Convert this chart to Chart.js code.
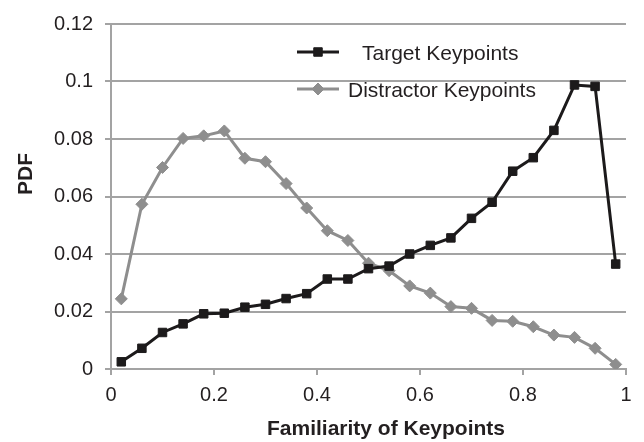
<!DOCTYPE html>
<html>
<head>
<meta charset="utf-8">
<script src="https://cdn.jsdelivr.net/npm/chart.js@4/dist/chart.umd.min.js"></script>
<style>
  html, body { margin: 0; padding: 0; background: #ffffff; }
  #wrap { width: 644px; height: 442px; position: relative; }
</style>
</head>
<body>
<div id="wrap"><canvas id="chart" width="644" height="442"></canvas></div>
<script>
// bin centres along the familiarity axis
const familiarity = [0.02, 0.06, 0.10, 0.14, 0.18, 0.22, 0.26, 0.30, 0.34, 0.38, 0.42, 0.46, 0.50,
                     0.54, 0.58, 0.62, 0.66, 0.70, 0.74, 0.78, 0.82, 0.86, 0.90, 0.94, 0.98];

const targetPdf = [0.0025, 0.0072, 0.0127, 0.0157, 0.0192, 0.0194, 0.0215, 0.0225, 0.0245, 0.0262,
                   0.0313, 0.0313, 0.0349, 0.0358, 0.0400, 0.0430, 0.0456, 0.0524, 0.0580, 0.0688,
                   0.0735, 0.0830, 0.0988, 0.0983, 0.0365];

const distractorPdf = [0.0244, 0.0573, 0.0701, 0.0802, 0.0811, 0.0828, 0.0733, 0.0721, 0.0645, 0.0560,
                       0.0481, 0.0447, 0.0368, 0.0342, 0.0289, 0.0264, 0.0217, 0.0211, 0.0169, 0.0166,
                       0.0147, 0.0118, 0.0110, 0.0072, 0.0016];

const seriesLabels = ['Target Keypoints', 'Distractor Keypoints'];
const xTicks = [0, 0.2, 0.4, 0.6, 0.8, 1];
const yTicks = [0, 0.02, 0.04, 0.06, 0.08, 0.1, 0.12];

const axisGray = '#a3a3a3';
const textColor = '#231f20';
const darkLine = '#1c1a1b';
const grayLine = '#8e8e8e';
const fontFamily = '"Liberation Sans", Arial, sans-serif';

const toPoints = (values) => values.map((v, i) => ({ x: familiarity[i], y: v }));

// axis titles and the in-plot legend, placed where the original has them
const overlayPlugin = {
    id: 'overlay',
    afterDraw(chart) {
        const ctx = chart.ctx;
        ctx.save();
        ctx.fillStyle = textColor;
        ctx.font = 'bold 21px ' + fontFamily;
        ctx.textAlign = 'center';
        ctx.textBaseline = 'alphabetic';
        ctx.fillText('Familiarity of Keypoints', 386, 435);

        ctx.translate(32, 174);
        ctx.rotate(-Math.PI / 2);
        ctx.fillText('PDF', 0, 0);
        ctx.restore();

        // legend
        const rows = [
            { ds: chart.data.datasets[0], y: 52, textX: 362 },
            { ds: chart.data.datasets[1], y: 89, textX: 348 }
        ];
        ctx.save();
        rows.forEach(row => {
            ctx.strokeStyle = row.ds.borderColor;
            ctx.lineWidth = row.ds.borderWidth;
            ctx.beginPath();
            ctx.moveTo(297, row.y);
            ctx.lineTo(339, row.y);
            ctx.stroke();

            ctx.fillStyle = row.ds.pointBackgroundColor;
            ctx.strokeStyle = row.ds.pointBorderColor;
            ctx.lineWidth = row.ds.pointBorderWidth;
            Chart.helpers.drawPoint(ctx, {
                pointStyle: row.ds.pointStyle,
                radius: row.ds.pointRadius,
                borderWidth: row.ds.pointBorderWidth
            }, 318, row.y);

            ctx.fillStyle = textColor;
            ctx.font = '21px ' + fontFamily;
            ctx.textAlign = 'left';
            ctx.textBaseline = 'alphabetic';
            ctx.fillText(row.ds.label, row.textX, row.y + 7.5);
        });
        ctx.restore();
    }
};

const ctx = document.getElementById('chart').getContext('2d');
new Chart(ctx, {
    type: 'line',
    data: {
        datasets: [
            {
                label: seriesLabels[0],
                data: toPoints(targetPdf),
                borderColor: darkLine,
                backgroundColor: darkLine,
                borderWidth: 3,
                pointStyle: 'rect',
                pointRadius: 6,
                pointBackgroundColor: darkLine,
                pointBorderColor: darkLine,
                pointBorderWidth: 1,
                tension: 0
            },
            {
                label: seriesLabels[1],
                data: toPoints(distractorPdf),
                borderColor: grayLine,
                backgroundColor: grayLine,
                borderWidth: 3,
                pointStyle: 'rectRot',
                pointRadius: 6,
                pointBackgroundColor: grayLine,
                pointBorderColor: grayLine,
                pointBorderWidth: 1,
                tension: 0
            }
        ]
    },
    options: {
        responsive: false,
        animation: false,
        devicePixelRatio: 1,
        layout: { padding: { left: 0, right: 18, top: 14, bottom: 0 } },
        plugins: {
            legend: { display: false },
            tooltip: { enabled: false }
        },
        scales: {
            x: {
                type: 'linear',
                min: 0,
                max: 1,
                afterFit(scale) { scale.height = 73; },
                afterBuildTicks(scale) { scale.ticks = xTicks.map(v => ({ value: v })); },
                grid: {
                    drawOnChartArea: false,
                    drawTicks: true,
                    tickLength: 6,
                    tickColor: axisGray,
                    lineWidth: 2
                },
                border: { display: true, color: axisGray, width: 2 },
                ticks: {
                    color: textColor,
                    font: { family: fontFamily, size: 20 },
                    padding: 8,
                    maxRotation: 0,
                    callback: v => String(Number(v.toFixed(2)))
                }
            },
            y: {
                min: 0,
                max: 0.12,
                afterFit(scale) { scale.width = 111; },
                afterBuildTicks(scale) { scale.ticks = yTicks.map(v => ({ value: v })); },
                grid: {
                    color: axisGray,
                    lineWidth: 2,
                    drawTicks: true,
                    tickLength: 6,
                    tickColor: axisGray
                },
                border: { display: true, color: axisGray, width: 2 },
                ticks: {
                    color: textColor,
                    font: { family: fontFamily, size: 20 },
                    padding: 12,
                    callback: v => String(Number(v.toFixed(2)))
                }
            }
        }
    },
    plugins: [overlayPlugin]
});
</script>
</body>
</html>
